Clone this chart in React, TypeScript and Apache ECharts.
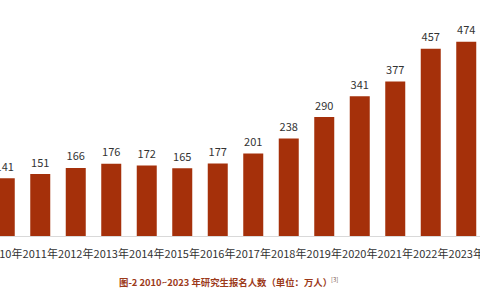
import React, { useEffect, useRef } from "react";
import * as echarts from "echarts";

const years = ["2010年", "2011年", "2012年", "2013年", "2014年", "2015年", "2016年", "2017年", "2018年", "2019年", "2020年", "2021年", "2022年", "2023年"];
const applicants = [141, 151, 166, 176, 172, 165, 177, 201, 238, 290, 341, 377, 457, 474];
const caption = "图-2 2010~2023 年研究生报名人数（单位：万人）";
const captionRef = "[3]";

export default function App() {
  const ref = useRef<HTMLDivElement>(null);
  useEffect(() => {
    if (!ref.current) return;
    const chart = echarts.init(ref.current, null, { renderer: "svg" });
    chart.setOption({
      animation: false,
      backgroundColor: "#ffffff",
      grid: { left: -13, width: 497, top: 31, height: 205, outerBoundsMode: "none", containLabel: false },
      xAxis: {
        type: "category",
        data: years,
        axisLine: { show: true, lineStyle: { color: "#d9d9d9", width: 1 } },
        axisTick: { show: false },
        axisLabel: {
          interval: 0,
          color: "#333333",
          fontSize: 11,
          fontFamily: "Noto Sans CJK SC",
          margin: 11,
          hideOverlap: false,
        },
      },
      yAxis: {
        type: "value",
        min: 0,
        max: 500,
        show: false,
        splitLine: { show: false },
      },
      series: [
        {
          type: "bar",
          data: applicants,
          barWidth: 20,
          itemStyle: { color: "#a5300a" },
          label: {
            show: true,
            position: "top",
            distance: 7,
            color: "#333333",
            fontSize: 11,
            fontFamily: "Noto Sans CJK SC",
          },
        },
      ],
      graphic: [
        {
          type: "text",
          left: 119,
          top: 277,
          style: {
            text: caption,
            fill: "#9c3a1a",
            font: "bold 9.4px 'Noto Sans CJK SC'",
          },
        },
        {
          type: "text",
          left: 331,
          top: 276,
          style: {
            text: captionRef,
            fill: "#7a5a50",
            font: "6px 'Noto Sans CJK SC'",
          },
        },
      ],
    });
    return () => chart.dispose();
  }, []);
  return (
    <div
      ref={ref}
      style={{ position: "fixed", left: 0, top: 0, width: 480, height: 300 }}
    />
  );
}
